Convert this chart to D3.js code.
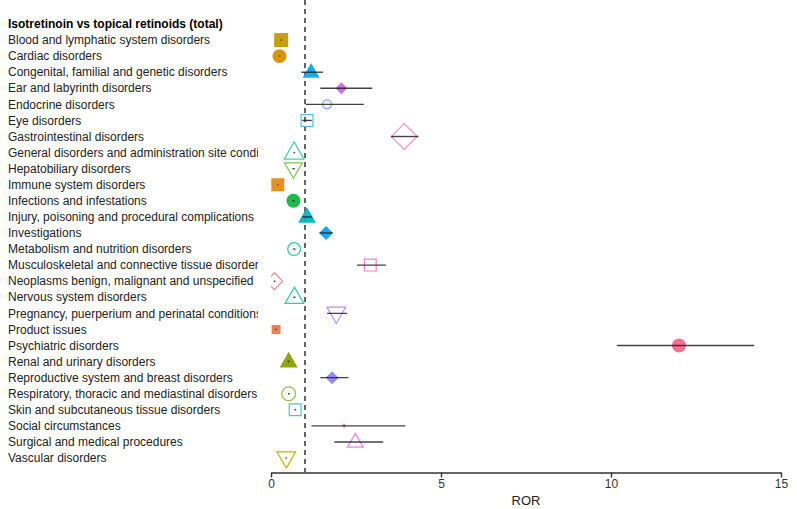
<html>
    <style>
        body {
            margin: 0;
            background: #fff;
            font-family: Arial, 'Liberation Sans', sans-serif;
        }
        svg {
            display: block;
        }
        .label {
            font-size: 12px;
            fill: #222;
        }
        .title {
            font-size: 12px;
            font-weight: bold;
            fill: #000;
        }
        .x .tick text {
            font-size: 12px;
            fill: #333;
        }
        .x .domain, .x .tick line {
            stroke: #333;
            stroke-width: 1.4;
        }
    </style>

    <body>
        <svg width="797" height="509"></svg>

        <script src="https://d3js.org/d3.v7.min.js"></script>

        <script>

            let width = 797
            let height = 509

            let title = "Isotretinoin vs topical retinoids (total)"

            let categories = [
                "Blood and lymphatic system disorders",
                "Cardiac disorders",
                "Congenital, familial and genetic disorders",
                "Ear and labyrinth disorders",
                "Endocrine disorders",
                "Eye disorders",
                "Gastrointestinal disorders",
                "General disorders and administration site conditions",
                "Hepatobiliary disorders",
                "Immune system disorders",
                "Infections and infestations",
                "Injury, poisoning and procedural complications",
                "Investigations",
                "Metabolism and nutrition disorders",
                "Musculoskeletal and connective tissue disorders",
                "Neoplasms benign, malignant and unspecified",
                "Nervous system disorders",
                "Pregnancy, puerperium and perinatal conditions",
                "Product issues",
                "Psychiatric disorders",
                "Renal and urinary disorders",
                "Reproductive system and breast disorders",
                "Respiratory, thoracic and mediastinal disorders",
                "Skin and subcutaneous tissue disorders",
                "Social circumstances",
                "Surgical and medical procedures",
                "Vascular disorders"
            ]

            let ror =   [0.30, 0.25, 1.18, 2.07, 1.65, 1.06, 3.92, 0.68, 0.66, 0.20, 0.66, 1.06, 1.62, 0.68, 2.92, 0.10, 0.69, 1.92, 0.15, 12.0, 0.52, 1.80, 0.52, 0.71, 2.15, 2.48, 0.45]
            let lower = [0.28, 0.23, 0.89, 1.45, 1.02, 0.92, 3.53, 0.66, 0.63, 0.19, 0.63, 0.92, 1.43, 0.65, 2.53, 0.08, 0.66, 1.65, 0.13, 10.17, 0.49, 1.45, 0.50, 0.69, 1.19, 1.86, 0.43]
            let upper = [0.32, 0.27, 1.53, 2.98, 2.73, 1.20, 4.34, 0.71, 0.70, 0.22, 0.70, 1.20, 1.81, 0.72, 3.38, 0.13, 0.72, 2.24, 0.17, 14.21, 0.55, 2.28, 0.55, 0.74, 3.95, 3.30, 0.47]

            let xTicks = [0, 5, 10, 15]
            let xTitle = "ROR"

            // marker styling (one per row)
            let colors = ["#c49a00", "#d39200", "#0aa8f0", "#cc66ee", "#78a9ff", "#4fc3e8", "#ff8fbf", "#3cd69a", "#7acb48",
                          "#e68a12", "#13b73f", "#00b4c8", "#0fa0f5", "#2bcf8f", "#f77fd6", "#f8877f", "#2ecbaa", "#c08cff",
                          "#ee7a48", "#ff6688", "#8c9f00", "#8f86f7", "#8dc63f", "#46ccd0", "#e36ee6", "#f77ee0", "#c8b40a"]
            let sizes = [14, 14, 17, 12, 10, 13, 27, 21, 19, 13, 14, 18, 14, 14, 13, 18, 20, 20, 9, 14, 18, 13, 15, 13, 4, 17, 20]
            let shapes = ["squareF", "circleF", "triF", "diamondF", "circleO", "squareO", "diamondO", "triO", "triDownO"]

            let data = categories.map((c, i) => ({
                name: c, ror: ror[i], lo: lower[i], hi: upper[i],
                color: colors[i], size: sizes[i], shape: shapes[i % shapes.length]
            }))

            let margin = {top: 0, right: 16, bottom: 37, left: 271}

            let svg = d3.select("svg")

            let x = d3.scaleLinear()
                .domain([0, 15])
                .range([margin.left, width - margin.right])

            let y = d3.scalePoint()
                .domain([title].concat(categories))
                .range([24, 458])

            let axisY = 472.5

            svg.append("defs").append("clipPath")
                .attr("id", "labelclip")
                .append("rect")
                .attr("x", 0).attr("y", 0)
                .attr("width", 258).attr("height", height)

            svg.append("defs").append("clipPath")
                .attr("id", "plotclip")
                .append("rect")
                .attr("x", margin.left).attr("y", 0)
                .attr("width", width - margin.left).attr("height", axisY)

            // labels
            let labels = svg.append("g").attr("clip-path", "url(#labelclip)")

            labels.append("text")
                .attr("class", "title")
                .attr("x", 8)
                .attr("y", y(title))
                .attr("dy", "0.35em")
                .text(title)

            labels.selectAll(".label")
                .data(data)
                .join("text")
                .attr("class", "label")
                .attr("x", 8)
                .attr("y", d => y(d.name))
                .attr("dy", "0.35em")
                .text(d => d.name)

            let plot = svg.append("g").attr("clip-path", "url(#plotclip)")

            // reference line at ROR = 1
            plot.append("line")
                .attr("x1", x(1)).attr("x2", x(1))
                .attr("y1", 0).attr("y2", axisY)
                .style("stroke", "#333")
                .style("stroke-width", 1.5)
                .style("stroke-dasharray", "5,4")

            function markerPath(shape, s) {
                let h = s / 2
                if (shape.startsWith("square")) return `M${-h},${-h}H${h}V${h}H${-h}Z`
                if (shape.startsWith("diamond")) return `M0,${-h}L${h},0L0,${h}L${-h},0Z`
                if (shape === "triF" || shape === "triO") {
                    let t = s * 0.87
                    return `M0,${-t * 0.62}L${h},${t * 0.38}L${-h},${t * 0.38}Z`
                }
                if (shape === "triDownO") {
                    let t = s * 0.87
                    return `M0,${t * 0.62}L${h},${-t * 0.38}L${-h},${-t * 0.38}Z`
                }
                return null
            }

            let pts = plot.append("g")
                .selectAll("g")
                .data(data)
                .join("g")
                .attr("transform", d => `translate(${x(d.ror)},${y(d.name)})`)

            pts.each(function (d) {
                let g = d3.select(this)
                let filled = d.shape.endsWith("F")
                let el
                if (d.shape.startsWith("circle")) {
                    el = g.append("circle").attr("r", d.size / 2 - (filled ? 0 : 0.6))
                } else {
                    let s = filled ? d.size : d.size - 1.2
                    el = g.append("path").attr("d", markerPath(d.shape, s))
                }
                if (filled) {
                    el.style("fill", d.color).style("fill-opacity", 0.95)
                } else {
                    el.style("fill", "none").style("stroke", d.color).style("stroke-width", 1.2)
                }
            })

            // confidence intervals on top
            plot.append("g")
                .selectAll("line")
                .data(data)
                .join("line")
                .attr("x1", d => x(d.lo))
                .attr("x2", d => x(d.hi))
                .attr("y1", d => y(d.name))
                .attr("y2", d => y(d.name))
                .style("stroke", "#222")
                .style("stroke-opacity", 0.85)
                .style("stroke-width", 1.4)

            // x axis
            let xAxis = svg.append("g")
                .attr("class", "x axis")
                .attr("transform", `translate(0, ${axisY})`)
                .call(d3.axisBottom(x).tickValues(xTicks).tickSize(5).tickSizeOuter(0).tickPadding(2))

            svg.append("text")
                .attr("x", (x(0) + x(15)) / 2)
                .attr("y", 500)
                .attr("dy", "0.35em")
                .attr("text-anchor", "middle")
                .style("font-size", "13px")
                .style("fill", "#222")
                .text(xTitle)

        </script>
    </body>
</html>
